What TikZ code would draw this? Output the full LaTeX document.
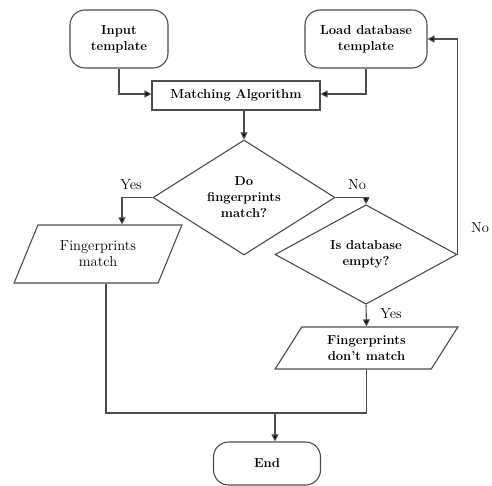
\documentclass[tikz,border=0pt]{standalone}
\usetikzlibrary{shapes.geometric,arrows.meta}
\begin{document}
\begin{tikzpicture}[x=1pt,y=-1pt,
  every node/.style={font=\fontsize{14.5}{16}\selectfont},
  line/.style={draw=black!70, line width=1.1pt},
  arr/.style={line, -{Triangle[length=7pt,width=7pt,fill=black]}},
  term/.style={line, rectangle, rounded corners=15pt, align=center, font=\fontsize{13}{16}\selectfont\bfseries},
  proc/.style={line, rectangle, align=center, font=\fontsize{13}{16}\selectfont\bfseries},
  dec/.style={line, diamond, inner sep=0pt, align=center, font=\fontsize{13}{16}\selectfont\bfseries},
  io/.style={line, trapezium, trapezium stretches=true, inner sep=0pt, align=center},
  lbl/.style={font=\fontsize{14.5}{16}\selectfont}
]
\useasboundingbox (0,0) rectangle (492,486);
\node[term, minimum width=98pt, minimum height=58pt] (in) at (119,39) {Input\\template};
\node[term, minimum width=122pt, minimum height=58pt] (load) at (366,39) {Load database\\template};
\node[proc, minimum width=168pt, minimum height=29pt] (ma) at (236,95.5) {Matching Algorithm};
\node[dec, minimum width=182pt, minimum height=115pt] (d1) at (244,197.5) {Do\\fingerprints\\match?};
\node[dec, minimum width=182pt, minimum height=85pt] (d2) at (366,254.5) {Is database\\empty?};
\node[io, trapezium left angle=60, trapezium right angle=120, minimum width=168pt, minimum height=58pt] (p1) at (98,254) {Fingerprints\\match};
\node[io, trapezium left angle=57, trapezium right angle=123, minimum width=183pt, minimum height=42pt, font=\fontsize{13}{16}\selectfont\bfseries] (p2) at (366.5,348) {Fingerprints\\don't match};
\node[term, minimum width=107pt, minimum height=43pt] (end) at (267,463.5) {End};
\coordinate (m) at (275,413);

\draw[arr] (in.south) |- ([yshift=1.5pt]ma.west);
\draw[arr] (load.south) |- ([yshift=1.5pt]ma.east);
\draw[arr] (ma.south -| d1.north) -- (d1.north);
\draw[arr] (d1.west) -| ([xshift=24pt]p1.north);
\draw[arr] (d1.east) -| (d2.north);
\draw[arr] (d2.east) |- (load.east);
\draw[arr] (d2.south) -- (p2.north);
\draw[line] ([xshift=8pt]p1.south) |- (m) -| (p2.south);
\draw[arr] (m) -- (end.north -| m);

\node[lbl] (yes1) at (131,185) {Yes};
\node[lbl] (no1) at (357,185) {No};
\node[lbl] (no2) at (480,228) {No};
\node[lbl] (yes2) at (391,314) {Yes};
\end{tikzpicture}
\end{document}
